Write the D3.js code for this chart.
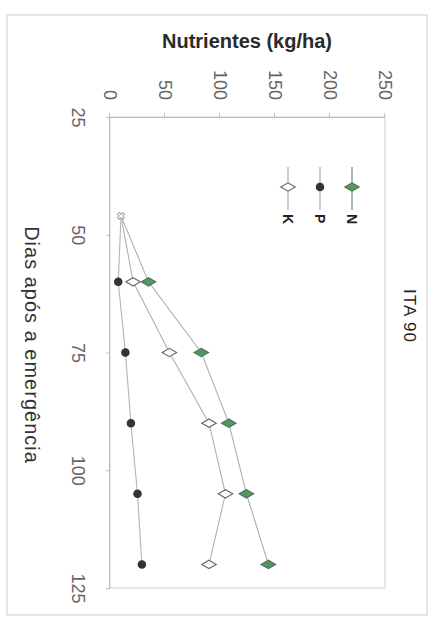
<!DOCTYPE html>
<html><head><meta charset="utf-8">
<script src="https://cdn.jsdelivr.net/npm/d3@7"></script>
<style>
body{margin:0;background:#fff}
svg{display:block}
text{font-family:"Liberation Sans",Arial,sans-serif}
</style></head>
<body><div id="chart"></div>
<script>
// Data (original chart, before the 90° rotation of the picture)
const days = [46, 60, 75, 90, 105, 120];
const nValues = [10, 35, 83, 108, 124, 144];
const pValues = [10, 7.5, 14, 19, 25, 29];
const kValues = [10, 21, 54, 90, 105, 90];
const seriesNames = ["N", "P", "K"];
const dayTicks = [25, 50, 75, 100, 125];
const nutrientTicks = [0, 50, 100, 150, 200, 250];
const title = "ITA 90";
const xTitle = "Dias após a emergência";
const yTitle = "Nutrientes (kg/ha)";

const series = [
  {name: seriesNames[0], values: nValues},
  {name: seriesNames[1], values: pValues},
  {name: seriesNames[2], values: kValues}
];
const style = {
  N: {shape: "diamond", fill: "#4f9a5e", stroke: "#56705a", line: "#a9b0aa"},
  P: {shape: "circle", fill: "#333", stroke: "#333", line: "#b4b4b4"},
  K: {shape: "diamond", fill: "#fff", stroke: "#6a6a6a", line: "#b0b0b0"}
};

const VW = 430, VH = 617;      // viewport
const W = 617, H = 430;        // original chart (rotated into viewport)

const svg = d3.select("#chart").append("svg").attr("width", VW).attr("height", VH);
const g = svg.append("g").attr("transform", `translate(${VW},0) rotate(90)`);

const x = d3.scaleLinear().domain([25, 125]).range([117, 588]);
const y = d3.scaleLinear().domain([0, 250]).range([320, 45]);

// outer frame
g.append("rect").attr("x", 15).attr("y", 3).attr("width", 600).attr("height", 420)
  .attr("fill", "none").attr("stroke", "#d6d6d6").attr("stroke-width", 1.2);

// plot frame
g.append("rect").attr("x", x(25)).attr("y", y(250))
  .attr("width", x(125) - x(25)).attr("height", y(0) - y(250))
  .attr("fill", "none").attr("stroke", "#d0d0d0").attr("stroke-width", 1);

// axes
const yAxis = g.append("g").attr("transform", `translate(${x(25)},0)`)
  .call(d3.axisLeft(y).tickValues(nutrientTicks).tickSize(4).tickPadding(13));
const xAxis = g.append("g").attr("transform", `translate(0,${y(0)})`)
  .call(d3.axisBottom(x).tickValues(dayTicks).tickSize(4).tickPadding(21));
[yAxis, xAxis].forEach(a => {
  a.select(".domain").attr("stroke", "#bdbdbd");
  a.selectAll(".tick line").attr("stroke", "#bdbdbd");
  a.selectAll(".tick text").attr("fill", "#666").style("font-size", "18px");
});

// lines
const line = d3.line().x(d => x(d.day)).y(d => y(d.v));
const symDiamond = d3.symbol().type(d3.symbolDiamond).size(60);
const symCircle = d3.symbol().type(d3.symbolCircle).size(42);

series.forEach(s => {
  const pts = days.map((d, i) => ({day: d, v: s.values[i]}));
  g.append("path").datum(pts).attr("d", line)
    .attr("fill", "none").attr("stroke", style[s.name].line).attr("stroke-width", 1.1);
});
// markers
series.forEach(s => {
  const st = style[s.name];
  const pts = days.map((d, i) => ({day: d, v: s.values[i]})).slice(1);
  g.selectAll(null).data(pts).enter().append("path")
    .attr("transform", d => `translate(${x(d.day)},${y(d.v)})`)
    .attr("d", st.shape === "diamond" ? symDiamond() : symCircle())
    .attr("fill", st.fill).attr("stroke", st.stroke).attr("stroke-width", 1.2);
});
// first point: overlapping marks appear as a small grey cross
g.append("path")
  .attr("transform", `translate(${x(days[0])},${y(kValues[0])}) rotate(45)`)
  .attr("d", d3.symbol().type(d3.symbolCross).size(30)())
  .attr("fill", "#fff").attr("stroke", "#a0a0a0").attr("stroke-width", 1);

// legend
const legY = d3.scalePoint().domain(seriesNames).range([78, 142]);
const leg = g.append("g");
seriesNames.forEach(n => {
  const st = style[n];
  const yy = legY(n);
  leg.append("line").attr("x1", 167).attr("x2", 210).attr("y1", yy).attr("y2", yy)
    .attr("stroke", n === "N" ? "#6c8f72" : "#aaa").attr("stroke-width", 1.2);
  leg.append("path").attr("transform", `translate(187,${yy})`)
    .attr("d", st.shape === "diamond" ? symDiamond() : symCircle())
    .attr("fill", st.fill).attr("stroke", st.stroke).attr("stroke-width", 1.2);
  leg.append("text").attr("x", 214).attr("y", yy).attr("dy", "0.35em")
    .attr("fill", "#222").style("font-size", "14px").style("font-weight", "bold").text(n);
});

// title
g.append("text").attr("x", 316).attr("y", 26).attr("text-anchor", "middle")
  .attr("fill", "#222").style("font-size", "17px").style("letter-spacing", "1px").text(title);

// axis titles
g.append("text").attr("transform", `translate(48,${H - 247}) rotate(-90)`)
  .attr("text-anchor", "middle").attr("fill", "#2a2a2a")
  .style("font-size", "20px").style("font-weight", "bold").text(yTitle);
g.append("text").attr("x", 345).attr("y", H - 25).attr("text-anchor", "middle")
  .attr("fill", "#333").style("font-size", "20px").style("letter-spacing", "1px").text(xTitle);
</script>
</body></html>
